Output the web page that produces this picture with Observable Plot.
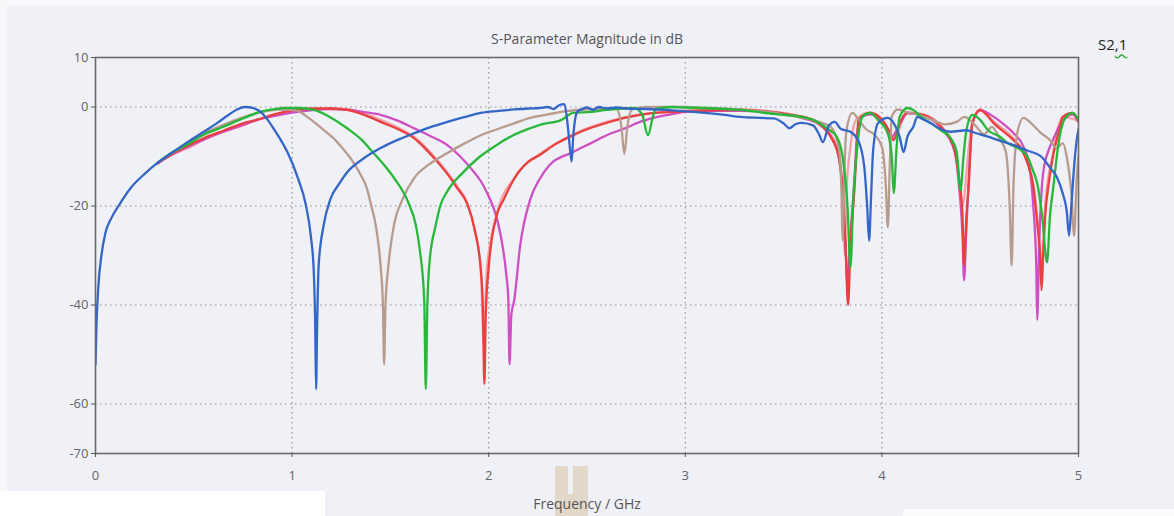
<!DOCTYPE html>
<html>
<head>
<meta charset="utf-8">
<script src="https://cdn.jsdelivr.net/npm/d3@7"></script>
<script src="https://cdn.jsdelivr.net/npm/@observablehq/plot@0.6"></script>
<style>
  html, body { margin: 0; padding: 0; background: #f0f0f7; }
  #wrap { position: relative; width: 1174px; height: 516px; overflow: hidden; background: #f0f0f7; }
  #chart { position: absolute; left: 0; top: 0; }
  .art { position: absolute; }
  #s21 { position: absolute; left: 1098px; top: 34px; font: 15px "Open Sans", sans-serif; color: #222; }
  #s21 span { text-decoration: underline wavy #3a3; text-underline-offset: 3px; }
</style>
</head>
<body>
<div id="wrap">
  <div class="art" style="left:0;top:0;width:1174px;height:5px;background:#fafafc"></div>
  <div class="art" style="left:0;top:0;width:7px;height:516px;background:#f7f7fa"></div>
  <div class="art" style="left:0;top:491px;width:325px;height:25px;background:#ffffff"></div>
  <div class="art" style="left:903px;top:509px;width:271px;height:7px;background:#fbfbfd"></div>
  <div class="art" style="left:555px;top:466px;width:33px;height:50px;background:#e2d8ca"></div>
  <div class="art" style="left:568px;top:466px;width:5px;height:28px;background:#f0f0f7"></div>
  <div id="chart"></div>
  <div id="s21">S2<span>,1</span></div>
</div>
<script>
const xTicks = [0, 1, 2, 3, 4, 5];
const yTicks = [10, 0, -20, -40, -60, -70];
const xGrid = [1, 2, 3, 4];
const yGrid = [0, -20, -40, -60];
const title = "S-Parameter Magnitude in dB";
const xLabel = "Frequency / GHz";

const blue = [[0,-52],[0.005,-44],[0.015,-36],[0.03,-30],[0.05,-25.5],[0.08,-22.5],[0.117,-20],[0.178,-16.4],[0.25,-13.5],[0.315,-11.3],[0.39,-9.2],[0.468,-7.1],[0.55,-5],[0.62,-3.2],[0.68,-1.5],[0.72,-0.5],[0.76,0],[0.8,-0.2],[0.84,-1],[0.87,-2.3],[0.905,-4.3],[0.94,-6.5],[0.976,-9.1],[1.03,-14.4],[1.07,-19.8],[1.095,-26],[1.11,-33],[1.118,-45],[1.122,-57],[1.127,-45],[1.135,-32],[1.16,-24],[1.195,-18.6],[1.24,-15.5],[1.28,-13.2],[1.36,-10.5],[1.45,-8.3],[1.54,-6.6],[1.62,-5.3],[1.7,-4.1],[1.79,-3],[1.88,-2],[1.96,-1.2],[2.05,-0.8],[2.13,-0.5],[2.2,-0.3],[2.26,-0.2],[2.3,0],[2.33,-0.4],[2.36,0.4],[2.385,0.6],[2.4,-3],[2.415,-9],[2.422,-11],[2.43,-6],[2.45,-1],[2.47,-0.5],[2.5,-0.1],[2.53,-0.6],[2.56,0],[2.6,-0.3],[2.65,-0.1],[2.7,-0.3],[2.8,-0.4],[2.9,-0.6],[3.01,-0.9],[3.1,-1.2],[3.2,-1.6],[3.28,-2],[3.38,-2.2],[3.45,-2.3],[3.5,-3.3],[3.53,-4.3],[3.56,-3.5],[3.59,-3.2],[3.65,-3.7],[3.68,-5.5],[3.7,-7.1],[3.73,-3.8],[3.76,-3],[3.79,-4.4],[3.84,-5],[3.88,-6.8],[3.91,-12],[3.925,-20],[3.935,-27],[3.945,-18],[3.955,-9],[3.98,-3.3],[4.03,-2.2],[4.07,-4],[4.09,-6],[4.11,-9.1],[4.13,-6],[4.16,-4],[4.18,-2],[4.21,-2.5],[4.25,-3.3],[4.3,-4.5],[4.35,-5],[4.43,-4.7],[4.48,-5.3],[4.54,-6],[4.6,-6.8],[4.67,-7.7],[4.74,-8.8],[4.81,-10],[4.86,-12.5],[4.89,-14.2],[4.92,-17.5],[4.94,-21],[4.952,-26],[4.962,-21],[4.975,-13.4],[4.99,-7],[5,-4.5]];

const brown = [[0.315,-11.3],[0.39,-9.3],[0.45,-7.8],[0.55,-5.4],[0.65,-3.6],[0.75,-2.1],[0.85,-1],[0.93,-0.5],[1,-0.6],[1.03,-0.8],[1.07,-1.8],[1.11,-3],[1.16,-4.6],[1.21,-6.3],[1.26,-8.5],[1.31,-11.1],[1.35,-13.8],[1.38,-16.4],[1.4,-19.5],[1.43,-25],[1.45,-32],[1.462,-40],[1.468,-52],[1.475,-40],[1.49,-32],[1.52,-23.5],[1.56,-18.8],[1.62,-14.4],[1.7,-11.5],[1.79,-9.3],[1.88,-7.3],[1.96,-5.7],[2.05,-4.4],[2.13,-3.3],[2.21,-2.2],[2.3,-1.5],[2.4,-0.8],[2.5,-0.5],[2.6,-0.3],[2.65,-0.4],[2.675,-4],[2.69,-9.5],[2.705,-4],[2.73,-0.5],[2.8,0],[2.9,0],[3,0],[3.1,-0.2],[3.2,-0.3],[3.3,-0.6],[3.4,-0.9],[3.5,-1.5],[3.6,-2.2],[3.68,-3],[3.74,-4],[3.78,-8],[3.795,-18],[3.8,-27],[3.81,-12],[3.82,-4.7],[3.85,-1.2],[3.88,-2.5],[3.92,-4.5],[3.96,-5.5],[4,-8],[4.02,-16],[4.03,-24.3],[4.04,-12],[4.05,-2],[4.08,-0.5],[4.12,-1],[4.18,-1.5],[4.25,-2.5],[4.32,-3.5],[4.38,-3],[4.42,-2],[4.47,-3.5],[4.52,-5.5],[4.56,-4],[4.6,-6.5],[4.63,-9],[4.65,-20],[4.66,-32],[4.67,-15],[4.69,-5],[4.72,-2.2],[4.76,-3.3],[4.81,-5.3],[4.85,-6.5],[4.89,-8.3],[4.92,-7.3],[4.94,-10],[4.965,-18],[4.978,-26],[4.99,-15],[5,-10]];

const green = [[0.315,-11.3],[0.39,-9.2],[0.47,-7.5],[0.55,-5.6],[0.65,-4],[0.75,-2.3],[0.82,-1.2],[0.9,-0.5],[0.96,-0.2],[1.03,-0.2],[1.11,-0.6],[1.2,-2.2],[1.28,-4.3],[1.35,-6.5],[1.41,-9.1],[1.47,-11.8],[1.52,-14.4],[1.59,-19.2],[1.63,-24],[1.65,-29],[1.672,-39],[1.68,-57],[1.688,-40],[1.7,-31],[1.73,-24],[1.755,-19.8],[1.79,-17],[1.87,-13.2],[1.95,-10.2],[2.04,-7.7],[2.12,-5.8],[2.21,-4.3],[2.26,-3.6],[2.37,-2.6],[2.43,-1.2],[2.52,-1],[2.6,-0.6],[2.74,-0.2],[2.78,-1.5],[2.81,-5.7],[2.835,-2],[2.85,-0.4],[2.94,0],[3,-0.1],[3.1,-0.2],[3.28,-0.6],[3.45,-1.4],[3.59,-2],[3.66,-2.8],[3.72,-4.3],[3.77,-6],[3.8,-10],[3.825,-20],[3.84,-32.4],[3.855,-18],[3.87,-10],[3.9,-2],[3.94,-1.2],[3.98,-2.6],[4.03,-5.3],[4.05,-10],[4.06,-17.4],[4.075,-8],[4.09,-2],[4.13,-0.2],[4.16,-0.6],[4.2,-2],[4.25,-3.3],[4.3,-4.7],[4.35,-6.3],[4.38,-9],[4.4,-16.8],[4.415,-10],[4.43,-4.7],[4.46,-1.6],[4.5,-2.6],[4.54,-4.7],[4.6,-6],[4.64,-7.3],[4.7,-8.5],[4.74,-10],[4.77,-13],[4.79,-15.4],[4.815,-22],[4.84,-31.4],[4.855,-22],[4.87,-16.8],[4.9,-7],[4.92,-3.3],[4.95,-1.5],[4.97,-1.2],[5,-2.6]];

const red = [[0.315,-11.4],[0.39,-9.5],[0.45,-8.2],[0.55,-6.3],[0.65,-4.8],[0.75,-3.3],[0.82,-2.6],[0.9,-1.6],[0.94,-1.2],[1,-0.7],[1.1,-0.3],[1.2,-0.3],[1.28,-0.6],[1.36,-1.5],[1.45,-3],[1.54,-4.5],[1.62,-6.3],[1.68,-8.5],[1.74,-11.1],[1.79,-13.5],[1.84,-16.4],[1.89,-19.5],[1.93,-25],[1.96,-33],[1.97,-40],[1.978,-56],[1.985,-42],[2,-32.4],[2.04,-22],[2.075,-18.8],[2.13,-14.5],[2.2,-11.1],[2.26,-9.7],[2.34,-7.5],[2.43,-5.7],[2.5,-4.5],[2.6,-3.2],[2.68,-2.3],[2.77,-1.6],[2.85,-1.2],[2.94,-1],[3.1,-0.7],[3.28,-0.6],[3.48,-1.2],[3.54,-1.6],[3.65,-2.6],[3.7,-4],[3.75,-6.7],[3.78,-10],[3.8,-16.8],[3.815,-28],[3.828,-40],[3.84,-28],[3.86,-16.8],[3.875,-6],[3.88,-2.6],[3.94,-1.2],[4,-2.6],[4.04,-5],[4.06,-6.7],[4.09,-3.3],[4.13,-1.2],[4.21,-1.6],[4.3,-4],[4.34,-6],[4.37,-8.7],[4.395,-15],[4.41,-22],[4.418,-32],[4.43,-22],[4.44,-16.8],[4.46,-3.3],[4.5,-0.6],[4.53,-1.5],[4.57,-3.3],[4.62,-5],[4.67,-6.7],[4.71,-8.5],[4.74,-11.3],[4.77,-16],[4.79,-23.5],[4.805,-30],[4.812,-37],[4.82,-30],[4.83,-22.3],[4.85,-15],[4.87,-10],[4.9,-5],[4.92,-2],[4.97,-1.2],[5,-3]];

const magenta = [[0.315,-11.4],[0.39,-9.6],[0.45,-8.4],[0.55,-6.6],[0.65,-5],[0.75,-3.6],[0.85,-2.3],[0.95,-1.5],[1.05,-0.9],[1.15,-0.5],[1.2,-0.4],[1.28,-0.6],[1.36,-1],[1.45,-1.6],[1.54,-2.8],[1.62,-4.3],[1.7,-5.8],[1.79,-7.7],[1.85,-9.8],[1.91,-12.4],[1.96,-15],[1.99,-17.2],[2.04,-22.3],[2.07,-28],[2.09,-34],[2.1,-39],[2.106,-52],[2.115,-42],[2.13,-39],[2.16,-28],[2.21,-18.8],[2.26,-14.5],[2.31,-11.7],[2.43,-9.1],[2.52,-7.3],[2.6,-5.7],[2.7,-4.2],[2.77,-3],[2.84,-2.2],[2.91,-1.6],[3,-1],[3.1,-0.8],[3.28,-0.8],[3.48,-1.3],[3.6,-2.3],[3.68,-3.5],[3.74,-6],[3.78,-10],[3.8,-17],[3.815,-28],[3.825,-36],[3.838,-27],[3.86,-15],[3.875,-5],[3.9,-2],[3.94,-1.5],[4,-2.8],[4.05,-6],[4.09,-3.5],[4.13,-1.3],[4.21,-1.8],[4.3,-4.2],[4.37,-9],[4.395,-17],[4.41,-26],[4.418,-35],[4.428,-26],[4.44,-16],[4.46,-3.5],[4.5,-0.7],[4.57,-2],[4.62,-3.5],[4.67,-5.3],[4.72,-8],[4.75,-12],[4.77,-20],[4.785,-32],[4.79,-43],[4.8,-28],[4.82,-13.4],[4.85,-8.5],[4.87,-6.7],[4.9,-4],[4.94,-2],[4.97,-1.5],[5,-3]];

const pink = [[0.315,-11.4],[0.39,-9.6],[0.48,-8.1],[0.55,-6.6],[0.65,-5],[0.75,-3.7],[0.82,-2.6],[0.9,-1.8],[0.99,-1],[1.1,-0.5],[1.2,-0.3],[1.28,-0.4],[1.36,-1.2],[1.45,-2.6],[1.54,-4.2],[1.62,-6],[1.74,-10.8],[1.84,-16],[1.89,-19.3],[1.93,-25],[1.96,-33],[1.975,-48],[1.99,-33],[2.04,-21.8],[2.13,-14.3],[2.26,-9.5],[2.43,-5.5],[2.6,-3],[2.77,-1.5],[2.94,-0.9],[3.1,-0.6],[3.28,-0.5],[3.48,-1.1],[3.6,-2],[3.68,-3.2],[3.74,-5.5],[3.78,-9],[3.8,-17],[3.812,-30],[3.82,-17],[3.84,-8],[3.87,-2.5],[3.94,-1.1],[4,-2.4],[4.06,-6.3],[4.13,-1.1],[4.21,-1.5],[4.3,-3.8],[4.37,-8.5],[4.41,-20],[4.44,-9],[4.46,-3],[4.5,-0.5],[4.57,-3],[4.67,-6.4],[4.74,-11],[4.79,-22],[4.808,-34],[4.83,-20],[4.87,-9.5],[4.92,-2],[5,-2.8]];

const seriesNames = ["pink", "magenta", "red", "brown", "green", "blue"];
const seriesColors = ["#f2a3a8", "#cf4fc2", "#e9403f", "#b79c8e", "#27b83a", "#3466c6"];
const seriesPoints = [pink, magenta, red, brown, green, blue];

const font = '"Open Sans", sans-serif';

const lineMarks = seriesPoints.map((pts, i) =>
  Plot.line(pts.map(([f, db]) => ({f, db, s: seriesNames[i]})), {
    x: "f", y: "db", stroke: seriesColors[i], strokeWidth: 2.3, strokeLinejoin: "round",
    curve: "monotone-x", clip: true
  })
);

const chart = Plot.plot({
  width: 1174,
  height: 516,
  marginLeft: 95,
  marginRight: 96,
  marginTop: 57,
  marginBottom: 63,
  style: { background: "transparent", fontFamily: font, fontSize: "13px", color: "#555" },
  x: { domain: [0, 5], label: null },
  y: { domain: [-70, 10], label: null },
  marks: [
    Plot.gridY(yGrid, { stroke: "#808080", strokeOpacity: 0.85, strokeDasharray: "1.5,3.5", strokeWidth: 1.2 }),
    Plot.gridX(xGrid, { stroke: "#808080", strokeOpacity: 0.85, strokeDasharray: "1.5,3.5", strokeWidth: 1.2 }),
    ...lineMarks,
    Plot.frame({ stroke: "#6a6a6a", strokeWidth: 1.6 }),
    Plot.axisX(xTicks, { tickSize: 4, tickPadding: 13, tickFormat: d => String(d), stroke: "#555", fill: "#666", label: null }),
    Plot.axisY(yTicks, { tickSize: 4, tickPadding: 3, tickFormat: d => String(d), stroke: "#555", fill: "#666", label: null }),
    Plot.text([title], { frameAnchor: "top", dy: -23, text: d => d, fill: "#555", fontSize: 14, fontFamily: font }),
    Plot.text([xLabel], { frameAnchor: "bottom", dy: 55, text: d => d, fill: "#555", fontSize: 14, fontFamily: font })
  ]
});
document.getElementById("chart").appendChild(chart);
</script>
</body>
</html>
